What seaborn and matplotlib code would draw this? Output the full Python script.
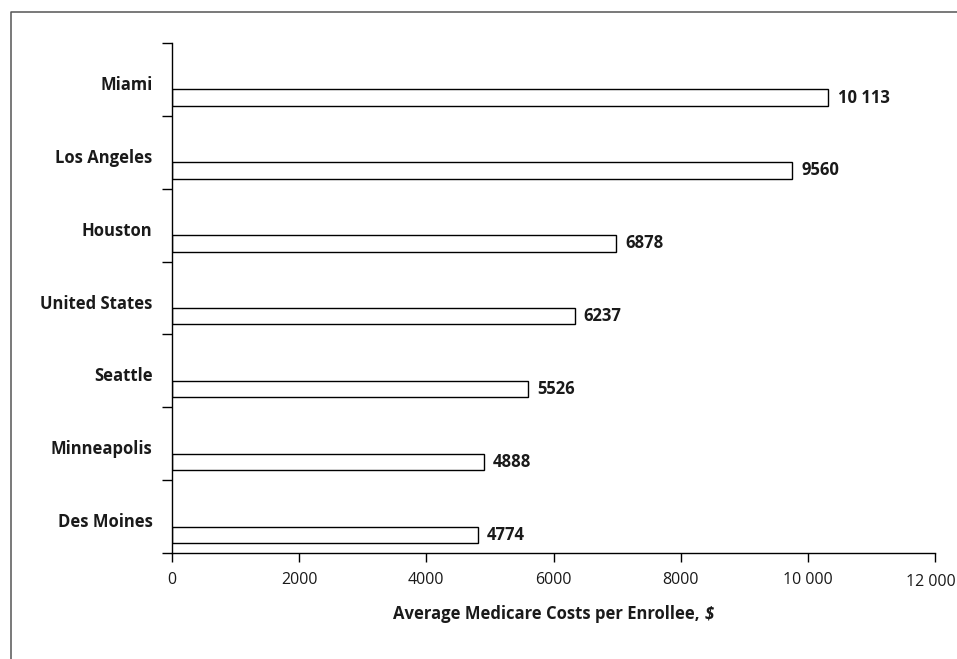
import matplotlib
matplotlib.use("Agg")
import matplotlib.pyplot as plt
import matplotlib.transforms as mtransforms
import seaborn as sns
import pandas as pd
from matplotlib.lines import Line2D

# ---- data ----
cities = ["Miami", "Los Angeles", "Houston", "United States",
          "Seattle", "Minneapolis", "Des Moines"]
value_labels = ["10 113", "9560", "6878", "6237", "5526", "4888", "4774"]
# bar lengths as drawn in the reference (measured against the axis)
bar_lengths = [10325, 9753, 6981, 6332, 5597, 4910, 4816]
x_ticks = [0, 2000, 4000, 6000, 8000, 10000, 12000]
x_tick_labels = ["0", "2000", "4000", "6000", "8000", "10 000", "12 000"]
x_label = "Average Medicare Costs per Enrollee,"
x_label_unit = "$"

sns.set_theme(style="white")
plt.rcParams['font.family'] = ['Open Sans', 'DejaVu Sans']

W, H = 957, 659
fig = plt.figure(figsize=(W / 100, H / 100), dpi=100)
ax = fig.add_axes([172 / W, 1 - 553 / H, (935 - 172) / W, (553 - 43) / H])

df = pd.DataFrame({"city": cities, "cost": bar_lengths})
sns.barplot(data=df, x="cost", y="city", order=cities, color="white",
            saturation=1, edgecolor="black", linewidth=1.0, width=0.226,
            errorbar=None, ax=ax)

n = len(cities)
ax.set_xlim(0, 12000)
ax.set_ylim(n - 0.75, -0.75)

# band boundaries as major ticks, city names as minor tick labels
boundaries = [i - 0.75 for i in range(n + 1)]
ax.set_yticks(boundaries, [""] * len(boundaries))
ax.set_yticks([i - 0.2 for i in range(n)], cities, minor=True)
ax.tick_params(axis="y", which="major", length=7.2, width=1.0,
               direction="out", color="black", left=True)
ax.tick_params(axis="y", which="minor", length=0, pad=14, left=True)
for t in ax.get_yticklabels(minor=True):
    t.set_fontweight("bold")
    t.set_fontsize(12)
    t.set_color("#1a1a1a")

ax.set_xticks(x_ticks, x_tick_labels)
ax.tick_params(axis="x", length=6.5, width=1.0, direction="out",
               color="black", bottom=True, labelsize=11.5, pad=7.0,
               labelcolor="#1a1a1a")
# keep the last tick label inside the image
last = ax.get_xticklabels()[-1]
last.set_transform(last.get_transform() +
                   mtransforms.ScaledTranslation(-4 / 100, -2 / 100,
                                                 fig.dpi_scale_trans))

ax.set_ylabel("")
lab = ax.set_xlabel(x_label, fontsize=12, fontweight="bold",
                    color="#1a1a1a")
ax.xaxis.set_label_coords(0.49, -0.102)
ax.annotate(x_label_unit, xy=(1, 0), xycoords=lab, xytext=(4, 0),
            textcoords="offset points", ha="left", va="bottom",
            fontsize=12, fontweight="bold", fontstyle="italic",
            color="#1a1a1a")

ax.bar_label(ax.containers[0], labels=value_labels, padding=6.5,
             fontsize=12, fontweight="bold", color="#1a1a1a")

for s in ["top", "right"]:
    ax.spines[s].set_visible(False)
for s in ["left", "bottom"]:
    ax.spines[s].set_visible(True)
    ax.spines[s].set_color("black")
    ax.spines[s].set_linewidth(1.0)

# outer frame (left and top edges)
fig.add_artist(Line2D([11 / W, 11 / W, 1.0], [0.0, 1 - 12 / H, 1 - 12 / H],
                      transform=fig.transFigure, color="#555555",
                      linewidth=1.1))

fig.savefig("out.png", dpi=100)
